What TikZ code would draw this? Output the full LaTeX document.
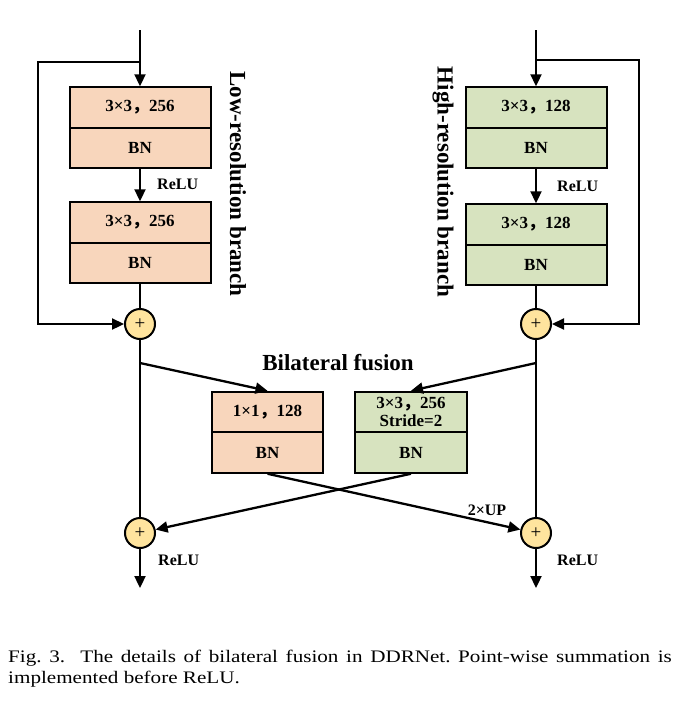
\documentclass[tikz,border=0pt]{standalone}
\usepackage{fontspec}
\setmainfont{Liberation Serif}
\newfontfamily\cjk{Noto Sans CJK SC}
\usetikzlibrary{arrows.meta}
\definecolor{lowfill}{RGB}{248,214,188}
\definecolor{highfill}{RGB}{215,227,191}
\definecolor{sumfill}{RGB}{255,228,158}
\newcommand{\fwcomma}{{\cjk ，}}

\begin{document}
\begin{tikzpicture}[x=1pt,y=-1pt,
   lowbox/.style={draw,line width=2pt,fill=lowfill,minimum width=141pt,
     minimum height=40.5pt,inner sep=0pt,font=\fontsize{17}{18.5}\selectfont\bfseries},
   highbox/.style={lowbox,fill=highfill},
   sumnode/.style={draw,circle,line width=2pt,fill=sumfill,minimum size=30pt,
     inner sep=0pt,font=\fontsize{19}{19}\selectfont},
   lbl/.style={font=\fontsize{16}{18}\selectfont\bfseries,inner sep=0pt},
   ttl/.style={font=\fontsize{23}{25}\selectfont\bfseries,inner sep=0pt},
   wire/.style={line width=2.3pt},
   arr/.style={wire,-{Triangle[length=12pt,width=11pt]}}]
   \useasboundingbox (0,0) rectangle (696,718);

   % low-resolution branch
   \path (140,107.5) node[lowbox] (L1a) {3×3\fwcomma 256};
   \path (140,148) node[lowbox] (L1b) {BN};
   \path (140,222.5) node[lowbox] (L2a) {3×3\fwcomma 256};
   \path (140,263) node[lowbox] (L2b) {BN};
   \path (140,324) node[sumnode] (LP) {+};
   \path (157,184) node[lbl,anchor=west] (L1r) {ReLU};
   \path (238,184) node[ttl,rotate=-90] (Ln) {Low-resolution branch};

   % high-resolution branch
   \path (536,107.5) node[highbox] (H1a) {3×3\fwcomma 128};
   \path (536,148) node[highbox] (H1b) {BN};
   \path (536,224.5) node[highbox] (H2a) {3×3\fwcomma 128};
   \path (536,265) node[highbox] (H2b) {BN};
   \path (536,324) node[sumnode] (HP) {+};
   \path (557,186) node[lbl,anchor=west] (H1r) {ReLU};
   \path (443,182) node[ttl,rotate=-90] (Hn) {High-resolution branch};

   % bilateral fusion
   \path (338,363) node[ttl] (Fn) {Bilateral fusion};
   \path (267.5,412) node[lowbox,minimum width=111pt] (F1a) {1×1\fwcomma 128};
   \path (267.5,452.5) node[lowbox,minimum width=111pt] (F1b) {BN};
   \path (411,412) node[highbox,minimum width=112pt,align=center,
     font=\fontsize{17}{18}\selectfont\bfseries] (F2a) {3×3\fwcomma 256\\Stride=2};
   \path (411,452.5) node[highbox,minimum width=112pt] (F2b) {BN};
   \path (140,533) node[sumnode] (LS) {+};
   \path (536,533) node[sumnode] (HS) {+};
   \path (487,510) node[lbl] (Fup) {2×UP};
   \path (158,560) node[lbl,anchor=west] (L2r) {ReLU};
   \path (557,560) node[lbl,anchor=west] (H2r) {ReLU};

   \coordinate (Lin) at (140,30);  \coordinate (Lk) at (140,62);
   \coordinate (Hin) at (536,30);  \coordinate (Hk) at (536,60);
   \coordinate (Lf) at (140,363);  \coordinate (Hf) at (536,363);
   \coordinate (Lout) at (140,588); \coordinate (Hout) at (536,588);

   \draw[arr] (Lin) -- (L1a);
   \draw[arr] (L1b) -- (L2a);
   \draw[wire] (L2b) -- (LP);
   \draw[arr] (Lk) -- ++(-102,0) |- (LP);
   \draw[arr] (Hin) -- (H1a);
   \draw[arr] (H1b) -- (H2a);
   \draw[wire] (H2b) -- (HP);
   \draw[arr] (Hk) -- ++(103,0) |- (HP);
   \draw[wire] (LP) -- (LS) (HP) -- (HS);
   \draw[arr] (Lf) -- (F1a.north);
   \draw[arr] (Hf) -- (F2a.north);
   \draw[arr] (F1b.south) -- (HS);
   \draw[arr] (F2b.south) -- (LS);
   \draw[arr] (LS) -- (Lout);
   \draw[arr] (HS) -- (Hout);

   \path (8,650) node[anchor=north west,inner sep=0pt] (cap)
   {\scalebox{1.2}[1]{\parbox{553pt}{\fontsize{17.6}{21}\selectfont\frenchspacing
     Fig. 3.\ \ The details of bilateral fusion in DDRNet. Point-wise summation is
     implemented before ReLU.}}};
\end{tikzpicture}
\end{document}
